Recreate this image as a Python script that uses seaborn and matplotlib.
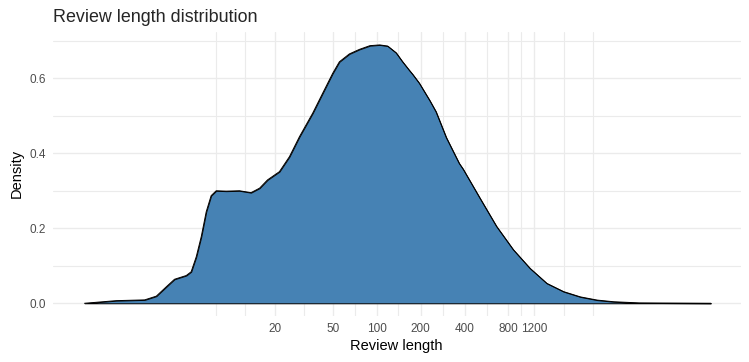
import numpy as np
import pandas as pd
import matplotlib.pyplot as plt
import seaborn as sns
from matplotlib.ticker import NullFormatter

# кривая плотности (длина отзыва, плотность)
review_length = [1, 1.65, 2.58, 3.10, 3.63, 4.13, 4.97, 5.37, 5.82, 6.30, 6.81, 7.36,
                 7.97, 9.33, 11.5, 13.8, 15.8, 17.9, 21.6, 25.3, 29.6, 36.5, 42.7,
                 50.0, 55.6, 65.1, 76.2, 90, 105, 119, 136, 150, 167, 177, 196, 231,
                 255, 300, 368, 391, 509, 663, 863, 1125, 1466, 1910, 2485, 3236,
                 4217, 6264, 19450]
density = [0.0, 0.007, 0.009, 0.019, 0.044, 0.064, 0.074, 0.084, 0.124, 0.178, 0.244,
           0.287, 0.300, 0.299, 0.300, 0.295, 0.307, 0.329, 0.351, 0.391, 0.444, 0.507,
           0.560, 0.613, 0.644, 0.665, 0.677, 0.687, 0.689, 0.686, 0.668, 0.645, 0.622,
           0.610, 0.587, 0.541, 0.511, 0.442, 0.373, 0.358, 0.281, 0.205, 0.143, 0.093,
           0.053, 0.031, 0.017, 0.0085, 0.004, 0.001, 0.0]

x_breaks = [20, 50, 100, 200, 400, 800, 1200]
x_labels = ['20', '50', '100', '200', '400', '800', '1200']
x_minor = [8, 12.6, 31.6, 70.7, 141, 283, 566, 980, 1930, 3030]
y_breaks = [0.0, 0.2, 0.4, 0.6]
y_labels = ['0.0', '0.2', '0.4', '0.6']
y_minor = [0.1, 0.3, 0.5, 0.7]

sns.set_theme(style='white')
plt.rcParams['font.family'] = ['Liberation Sans', 'DejaVu Sans']

df = pd.DataFrame({'length': review_length, 'density': density})

fig = plt.figure(figsize=(7.49, 3.62), dpi=100)
ax = fig.add_axes([0.0704, 0.1265, 0.9186, 0.7862])

# заливка + контур (как geom_density)
ax.fill_between(df['length'], df['density'], facecolor='#4682B4',
                edgecolor='black', linewidth=0.7, zorder=2)
sns.lineplot(data=df, x='length', y='density', ax=ax, color='black',
             linewidth=0.7, zorder=3)

ax.set_xscale('log')
ax.set_xlim(10 ** -0.218, 10 ** 4.494)
ax.set_ylim(-0.0345, 0.7245)

ax.set_xticks(x_breaks)
ax.set_xticklabels(x_labels)
ax.set_xticks(x_minor, minor=True)
ax.xaxis.set_minor_formatter(NullFormatter())
ax.set_yticks(y_breaks)
ax.set_yticklabels(y_labels)
ax.set_yticks(y_minor, minor=True)

ax.grid(which='major', color='#EBEBEB', linewidth=1.0)
ax.grid(which='minor', color='#EBEBEB', linewidth=0.8)
ax.set_axisbelow(True)
for s in ax.spines.values():
    s.set_visible(False)

ax.tick_params(which='both', length=0, labelsize=8.5, labelcolor='#4D4D4D')
ax.tick_params(axis='x', pad=5)
ax.tick_params(axis='y', pad=5)

ax.set_xlabel('Review length', fontsize=10.5, color='black', labelpad=3)
ax.set_ylabel('Density', fontsize=10.5, color='black', labelpad=4)
ax.set_title('Review length distribution', loc='left', fontsize=12.9, pad=7)

fig.savefig('out.png', dpi=100)
